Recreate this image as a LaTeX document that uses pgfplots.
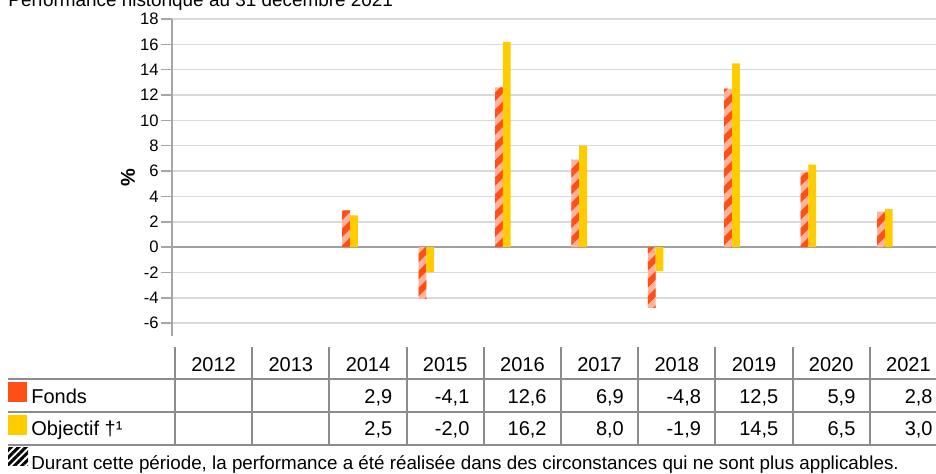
\documentclass[border=0pt]{standalone}
\usepackage{fontspec}
\setmainfont{Liberation Sans}
\usepackage{pgfplots}
\pgfplotsset{compat=1.18}
\usetikzlibrary{patterns.meta}
\definecolor{fondsorange}{HTML}{FF4F17}
\definecolor{fondssalmon}{HTML}{FFB39A}
\definecolor{objyellow}{HTML}{FFCC00}
\definecolor{gridgray}{HTML}{D9D9D9}
\definecolor{axisgray}{HTML}{A6A6A6}
\definecolor{zerogray}{HTML}{A0A0A0}
\definecolor{tablegray}{HTML}{8C8C8C}
\begin{document}
\begin{tikzpicture}
\useasboundingbox (0pt,0pt) rectangle (468pt,-236.5pt);
\begin{axis}[
  at={(86pt,-167.85pt)}, anchor=south west,
  width=382pt, height=158.35pt, scale only axis,
  xmin=-0.33, xmax=9.67, ymin=-7, ymax=18,
  axis x line=none, axis y line=left,
  y axis line style={-, draw=axisgray, line width=0.9pt},
  ytick={-6,-4,...,18},
  ymajorgrids, grid style={draw=gridgray, line width=0.8pt},
  extra y ticks={0}, extra y tick labels={},
  extra y tick style={grid style={draw=zerogray, line width=1pt}},
  tick align=outside, major tick length=5.5pt,
  ytick style={draw=axisgray, line width=0.8pt},
  yticklabel style={font=\fontsize{8.3}{10}\selectfont, inner xsep=1pt},
  /pgf/number format/assume math mode=true,
  ybar=0pt, bar width=3.9pt,
  ylabel={\textbf{\%}},
  every axis y label/.style={at={(axis description cs:0,0.5)}, xshift=-22pt, anchor=center, rotate=90, font=\fontsize{10}{12}\selectfont},
]
\addplot[draw=none, fill=fondssalmon,
  postaction={pattern={Lines[angle=45,distance=6pt,line width=3pt]}, pattern color=fondsorange}]
  coordinates {(2,2.9) (3,-4.1) (4,12.6) (5,6.9) (6,-4.8) (7,12.5) (8,5.9) (9,2.8)};
\addplot[draw=none, fill=objyellow]
  coordinates {(2,2.5) (3,-2.0) (4,16.2) (5,8.0) (6,-1.9) (7,14.5) (8,6.5) (9,3.0)};
\end{axis}
\begin{scope}[x=0.5pt,y=-0.5pt, font=\fontsize{10}{12}\selectfont]
\node[anchor=base west, inner sep=0, font=\fontsize{9.45}{11}\selectfont] at (8,6) {Performance historique au 31 décembre 2021};
\foreach \yy in {378.5,411.5,444.5} \draw[tablegray, line width=1pt] (8,\yy) -- (936,\yy);
\foreach \i in {0,...,9} \draw[tablegray, line width=1pt] ({175+77.2*\i},347) -- ({175+77.2*\i},444.5);
\foreach \yr [count=\i from 0] in {2012,2013,2014,2015,2016,2017,2018,2019,2020,2021}
  \node[anchor=base, inner sep=0] at ({175+77.2*\i+38.6},371.5) {\yr};
\foreach \v [count=\i from 2] in {{2,9},{-4,1},{12,6},{6,9},{-4,8},{12,5},{5,9},{2,8}}
  \node[anchor=base east, inner sep=0] at ({175+77.2*(\i+1)-14},403.5) {\v};
\foreach \v [count=\i from 2] in {{2,5},{-2,0},{16,2},{8,0},{-1,9},{14,5},{6,5},{3,0}}
  \node[anchor=base east, inner sep=0] at ({175+77.2*(\i+1)-14},435.5) {\v};
\fill[fondsorange] (8,382) rectangle (27,402);
\fill[objyellow] (8,415) rectangle (27,435);
\node[anchor=base west, inner sep=0] at (31,403.5) {Fonds};
\node[anchor=base west, inner sep=0] at (31,435.5) {Objectif †¹};
\begin{scope}
\clip (8,447) rectangle (28,465);
\fill[pattern={Lines[angle=45,distance=2.6pt,line width=1.5pt]}, pattern color=black] (8,447) rectangle (28,465);
\end{scope}
\node[anchor=base west, inner sep=0, font=\fontsize{9.4}{11}\selectfont] at (31,469) {Durant cette période, la performance a été réalisée dans des circonstances qui ne sont plus applicables.};
\end{scope}
\end{tikzpicture}
\end{document}
